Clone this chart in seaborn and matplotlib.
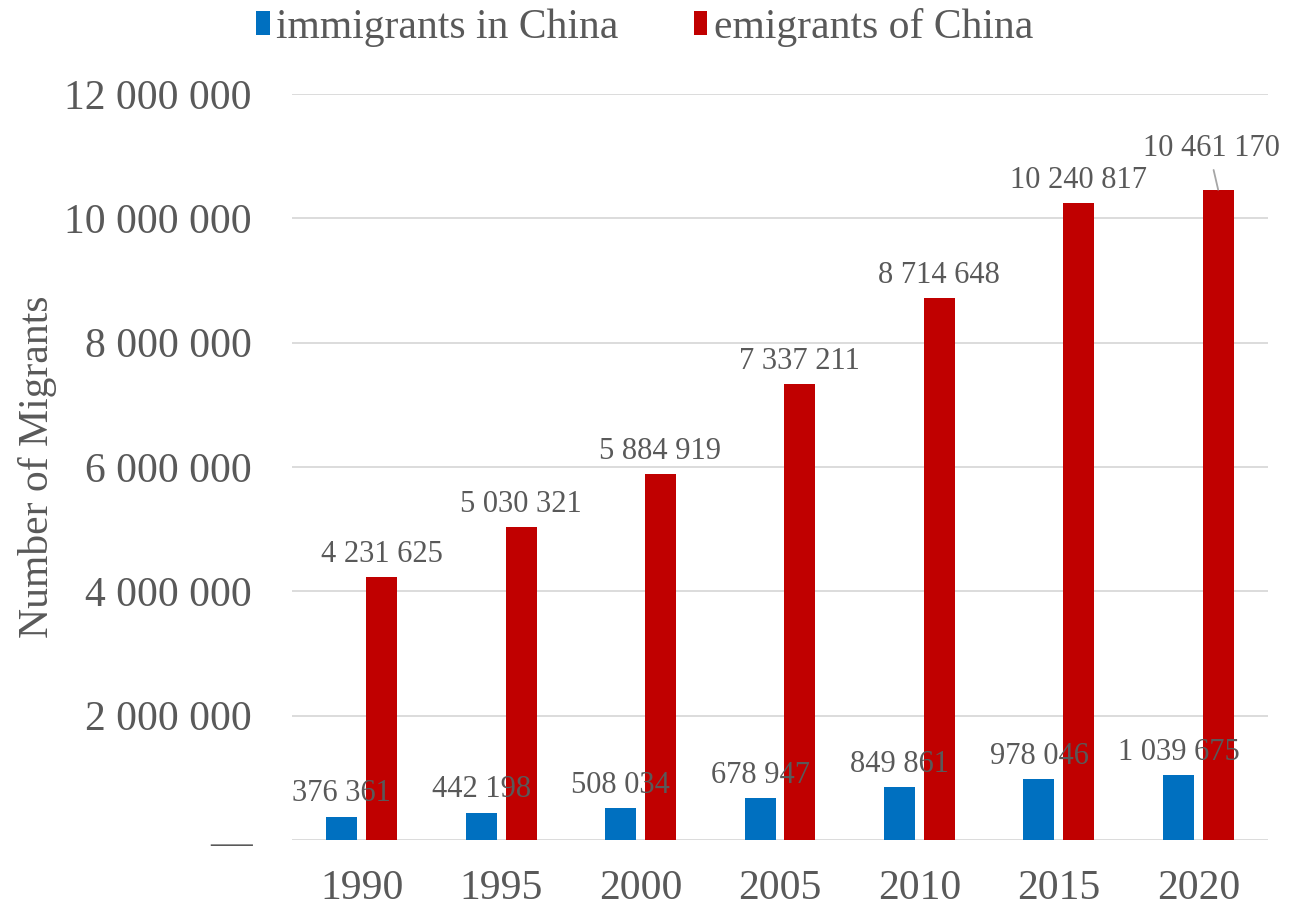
import matplotlib
matplotlib.use("Agg")
import matplotlib.pyplot as plt
import matplotlib.ticker as mticker
from matplotlib.patches import Patch
import pandas as pd
import seaborn as sns

# Data
years = ["1990", "1995", "2000", "2005", "2010", "2015", "2020"]
immigrants = [376361, 442198, 508034, 678947, 849861, 978046, 1039675]
emigrants = [4231625, 5030321, 5884919, 7337211, 8714648, 10240817, 10461170]
series = ["immigrants in China", "emigrants of China"]
colors = {"immigrants in China": "#0070C0", "emigrants of China": "#C00000"}

df = pd.DataFrame({
    "year": years * 2,
    "value": immigrants + emigrants,
    "series": [series[0]] * len(years) + [series[1]] * len(years),
})

sns.set_theme(style="white")
plt.rcParams["font.family"] = ["Liberation Serif", "DejaVu Serif"]
text_color = "#595959"

fig = plt.figure(figsize=(12.89, 9.08), dpi=100)
ax = fig.add_axes([292 / 1289, 1 - 840 / 908, 976 / 1289, (840 - 94) / 908])

sns.barplot(data=df, x="year", y="value", hue="series", hue_order=series,
            palette=colors, width=0.57, gap=0.22, legend=False, ax=ax,
            saturation=1, edgecolor="none")

ax.set_ylim(0, 12_000_000)
ax.set_yticks(range(0, 12_000_001, 2_000_000))
ax.yaxis.set_major_formatter(mticker.FuncFormatter(
    lambda v, p: "\u2014" if v == 0 else f"{v:,.0f}".replace(",", " ")))
ax.grid(axis="y", color="#d9d9d9", linewidth=1.3)
ax.set_axisbelow(True)
for s in ax.spines.values():
    s.set_visible(False)
ax.tick_params(axis="both", length=0, labelsize=30, labelcolor=text_color)
ax.tick_params(axis="y", pad=29)
ax.tick_params(axis="x", pad=21)
ax.set_xlabel("")
ax.set_ylabel("Number of Migrants", fontsize=30, color=text_color, labelpad=5)

# Data labels
for container, vals in zip(ax.containers, [immigrants, emigrants]):
    for bar, v in zip(container, vals):
        x = bar.get_x() + bar.get_width() / 2
        y = bar.get_height()
        label = f"{v:,}".replace(",", " ")
        if v == emigrants[-1]:
            ax.annotate(label, (x, y), xytext=(-4.5, 24.5), textcoords="offset points",
                        ha="center", va="baseline", fontsize=22, color=text_color,
                        arrowprops=dict(arrowstyle="-", color="#a6a6a6", lw=1.3,
                                        relpos=(0.5, 0), shrinkA=3, shrinkB=0))
        else:
            ax.annotate(label, (x, y), xytext=(0, 11), textcoords="offset points",
                        ha="center", va="baseline", fontsize=22, color=text_color)

handles = [Patch(facecolor=colors[s], edgecolor="none") for s in series]
leg = fig.legend(handles, series, loc="upper center", bbox_to_anchor=(0.5, 0.996),
                 ncol=2, frameon=False, fontsize=30, handlelength=0.33,
                 handleheight=0.52, handletextpad=0.15, columnspacing=1.8,
                 borderaxespad=0, borderpad=0.1)
for t in leg.get_texts():
    t.set_color(text_color)

fig.savefig("out.png", dpi=100)
